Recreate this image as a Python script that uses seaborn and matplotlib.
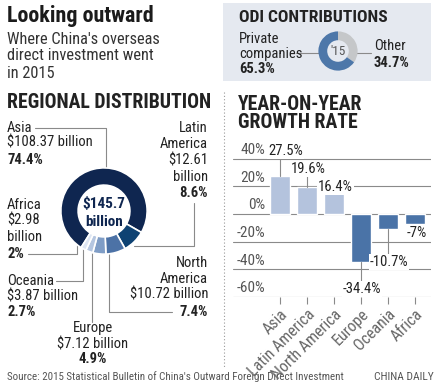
import matplotlib
matplotlib.use("Agg")
import matplotlib.pyplot as plt
from matplotlib import font_manager
from matplotlib.patches import Rectangle
import seaborn as sns

# ── Data ──────────────────────────────────────────────────────────────────────
REGIONS   = ["Asia", "Latin America", "North America", "Europe", "Oceania", "Africa"]
INVEST    = [108.37, 12.61, 10.72, 7.12, 3.87, 2.98]      # $ billion
SHARE     = [74.4, 8.6, 7.4, 4.9, 2.7, 2.0]               # %
GROWTH    = [27.5, 19.6, 16.4, -34.4, -10.7, -7.0]        # % year-on-year
TOTAL     = 145.7
ODI_NAMES = ["Other", "Private companies"]
ODI_SHARE = [34.7, 65.3]
Y_TICKS   = [-60, -40, -20, 0, 20, 40]

# ── Style ─────────────────────────────────────────────────────────────────────
sns.set_theme(style="white")

# pick a narrow family that has both regular and bold faces, else DejaVu
weights = {}
for f in font_manager.fontManager.ttflist:
    w = f.weight if isinstance(f.weight, int) else 400
    weights.setdefault(f.name, set()).add(w)
FAMILY = "DejaVu Sans"
for cand in ["Roboto Condensed", "Archivo Narrow", "PT Sans Narrow",
             "Liberation Sans Narrow", "Fira Sans Condensed", "IBM Plex Sans Condensed",
             "Barlow Semi Condensed", "Open Sans Condensed"]:
    ws = weights.get(cand, set())
    if any(w <= 400 for w in ws) and any(w >= 600 for w in ws):
        FAMILY = cand
        break
plt.rcParams["font.family"] = [FAMILY, "DejaVu Sans"]
NARROW = FAMILY != "DejaVu Sans"
K = 1.0 if NARROW else 0.82   # shrink text if no narrow face exists

TEXT, GREY, LINE = "#222222", "#555555", "#8a8a8a"
SLICE_COLORS = ["#0f2650", "#0e4273", "#4c72a6", "#7f9dc6", "#b5c6e0", "#dde5f2"]
POS_COLOR, NEG_COLOR = "#b4c3dd", "#4a73a7"
ODI_COLORS = ["#c5c7c9", "#4d77a9"]

W, H = 442, 385
def box(x0, y0, x1, y1):
    return [x0 / W, 1 - y1 / H, (x1 - x0) / W, (y1 - y0) / H]

fig = plt.figure(figsize=(W / 100, H / 100), dpi=100, facecolor="white")

# overlay in pixel coordinates (y down)
ov = fig.add_axes([0, 0, 1, 1])
ov.set_xlim(0, W); ov.set_ylim(H, 0); ov.axis("off")

# ── Header ────────────────────────────────────────────────────────────────────
ov.text(7, 16, "Looking outward", fontsize=15.8 * K, fontweight="bold", color="#1b1b1b", va="center")
for i, s in enumerate(["Where China's overseas", "direct investment went", "in 2015"]):
    ov.text(7, 39 + 17 * i, s, fontsize=11.8 * K, color="#333333", va="center")

ov.add_patch(Rectangle((223, 3), 208, 78, color="#e5e9f0", lw=0))
ov.text(239, 18, "ODI CONTRIBUTIONS", fontsize=12.6 * K, fontweight="bold", color=TEXT, va="center")
ov.text(239, 39, "Private", fontsize=10.5 * K, color=TEXT, va="center")
ov.text(239, 54, "companies", fontsize=10.5 * K, color=TEXT, va="center")
ov.text(239, 69, f"{ODI_SHARE[1]:g}%", fontsize=10.5 * K, fontweight="bold", color=TEXT, va="center")
ov.text(374, 46, "Other", fontsize=10.5 * K, color=TEXT, va="center")
ov.text(374, 63, f"{ODI_SHARE[0]:g}%", fontsize=10.5 * K, fontweight="bold", color=TEXT, va="center")
ov.plot([296, 320], [53, 53], color=LINE, lw=0.8)
ov.plot([356, 371], [53, 53], color=LINE, lw=0.8)

# ── Regional distribution labels ──────────────────────────────────────────────
ov.text(7, 103, "REGIONAL DISTRIBUTION", fontsize=14.2 * K, fontweight="bold", color=TEXT, va="center")
ov.plot([224, 224], [92, 368], color="#999999", lw=0.8, ls=(0, (1, 2)))

# label layout: x, alignment, line y positions, name / value wrap, leader path
LAYOUT = {
    "Asia":          (7,   "left",   [128, 143, 160],           False, False, [(35, 128), (106, 128), (106, 170)]),
    "Latin America": (208, "right",  [128, 144, 160, 177, 193], True,  True,  [(194, 203), (194, 246), (134, 246)]),
    "North America": (208, "right",  [263, 279, 295, 312],      True,  False, [(172, 312), (109, 312), (109, 250)]),
    "Europe":        (93,  "center", [328, 344, 359],           False, False, [(92, 322), (92, 250)]),
    "Oceania":       (7,   "left",   [281, 297, 312],           False, False, [(56, 281), (83, 281), (83, 245)]),
    "Africa":        (7,   "left",   [205, 221, 237, 254],      False, True,  [(28, 254), (77, 254), (77, 245)]),
}
for region, inv, share in zip(REGIONS, INVEST, SHARE):
    x, ha, ys, wrap_name, wrap_val, path = LAYOUT[region]
    name = region.split(" ") if wrap_name else [region]
    val = [f"${inv:g}", "billion"] if wrap_val else [f"${inv:g} billion"]
    for s, y in zip(name + val, ys):
        ov.text(x, y, s, fontsize=10.5 * K, color=TEXT, ha=ha, va="center")
    ov.text(x, ys[-1], f"{share:g}%", fontsize=10.5 * K, fontweight="bold", color=TEXT, ha=ha, va="center")
    ov.plot([p[0] for p in path], [p[1] for p in path], color=LINE, lw=0.8)

# ── Big donut ─────────────────────────────────────────────────────────────────
ax_d = fig.add_axes(box(60, 167, 148, 255))
ax_d.pie(SHARE, colors=SLICE_COLORS, startangle=238, counterclock=False,
         wedgeprops=dict(width=0.4, edgecolor="white", linewidth=1.2))
ax_d.set_xlim(-1.02, 1.02); ax_d.set_ylim(-1.02, 1.02); ax_d.set_aspect("equal")
ax_d.text(0, 0.17, f"${TOTAL:g}", fontsize=11 * K, fontweight="bold", color="#0f2650", ha="center", va="center")
ax_d.text(0, -0.25, "billion", fontsize=11 * K, fontweight="bold", color="#0f2650", ha="center", va="center")
ax_d.axis("off")

# ── Small ODI donut ───────────────────────────────────────────────────────────
ax_s = fig.add_axes(box(318, 31, 358, 71))
ax_s.pie(ODI_SHARE, colors=ODI_COLORS, startangle=90, counterclock=False,
         wedgeprops=dict(width=0.45, linewidth=0))
ax_s.set_xlim(-1.02, 1.02); ax_s.set_ylim(-1.02, 1.02); ax_s.set_aspect("equal")
ax_s.text(0, -0.02, "'15", fontsize=9.5 * K, color=GREY, ha="center", va="center")
ax_s.axis("off")

# ── Year-on-year growth bars ──────────────────────────────────────────────────
ov.text(238, 105, "YEAR-ON-YEAR", fontsize=14.2 * K, fontweight="bold", color=TEXT, va="center")
ov.text(238, 123, "GROWTH RATE", fontsize=14.2 * K, fontweight="bold", color=TEXT, va="center")

ax = fig.add_axes(box(233, 145, 431, 297))
bar_colors = [POS_COLOR if g > 0 else NEG_COLOR for g in GROWTH]
sns.barplot(x=REGIONS, y=GROWTH, hue=REGIONS, palette=bar_colors, legend=False,
            saturation=1, width=0.74, ax=ax, zorder=2)
ax.set_xlim(-1.741, 5.593)
ax.set_ylim(-60, 50)
sns.despine(ax=ax, left=True, bottom=True, top=True, right=True)
ax.set_facecolor("none")
ax.set_yticks([])
for t in Y_TICKS:
    ax.axhline(t, color=LINE, lw=0.8, zorder=1)
    ax.text(-0.55, t + 1.2, f"{t}%", fontsize=11 * K, color=GREY, ha="right", va="bottom")

# value labels: label y and whether a leader connects it to the bar
LABEL_Y = [45.8, 32.6, 19.6, -54.3, -34.8, -13.8]
for i, (g, ly) in enumerate(zip(GROWTH, LABEL_Y)):
    ax.text(i + (0.2 if i == 0 else 0.05), ly, f"{g:g}%", fontsize=10.5 * K, color=TEXT,
            ha="center", va="center", zorder=4,
            bbox=dict(boxstyle="square,pad=0.05", fc="white", ec="none"))
    if abs(ly - g) > 8:
        end = ly - 4.5 if g > 0 else ly + 4.5
        ax.plot([i, i], [g, end], color=LINE, lw=0.8, zorder=3)

ax.set_xlabel(""); ax.set_ylabel("")
ax.tick_params(axis="x", bottom=True, length=5, width=0.8, color=LINE, pad=2)
ax.set_xticks(range(len(REGIONS)))
ax.set_xticklabels(REGIONS, rotation=45, ha="right", rotation_mode="anchor",
                   fontsize=11.5 * K, color="#666666")

# ── Footer ────────────────────────────────────────────────────────────────────
ov.text(7, 377, "Source: 2015 Statistical Bulletin of China's Outward Foreign Direct Investment",
        fontsize=7.9 * K, color=GREY, va="center")
ov.text(434, 377, "CHINA DAILY", fontsize=8.2 * K, color=GREY, va="center", ha="right")

plt.savefig("out.png", dpi=100, facecolor="white")
plt.close()
